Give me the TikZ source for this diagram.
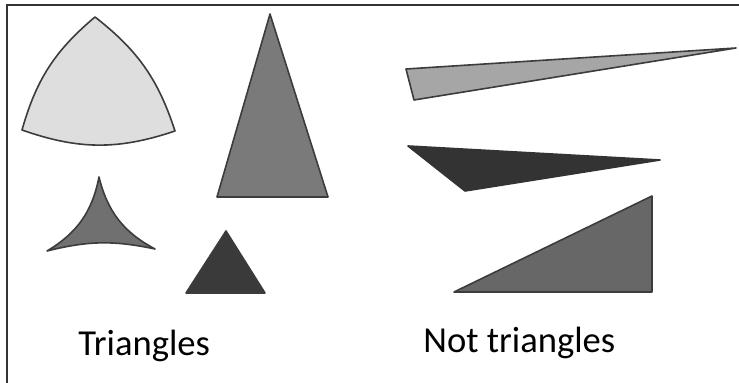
\documentclass[tikz,border=0pt]{standalone}
\usepackage{fontspec}
\setmainfont{Carlito}
\usepackage{tikz}
\usetikzlibrary{positioning,calc}

\definecolor{lightfill}{HTML}{DEDEDE}
\definecolor{midfill}{HTML}{7A7A7A}
\definecolor{concfill}{HTML}{707070}
\definecolor{darkfill}{HTML}{3A3A3A}
\definecolor{paleFill}{HTML}{A6A6A6}
\definecolor{inkfill}{HTML}{333333}
\definecolor{rightfill}{HTML}{676767}
\definecolor{edgeclr}{HTML}{3C3C3C}

\begin{document}
\begin{tikzpicture}[
  x=0.5pt, y=-0.5pt,
  shp/.style={draw=edgeclr, line width=0.8pt, line join=round},
  lbl/.style={font=\fontsize{18.3}{20}\selectfont, inner sep=0pt, anchor=base west},
  frameline/.style={draw=black!80, line width=1pt}
]
\useasboundingbox (0,0) rectangle (739,383);

% frame (left and top only)
\draw[frameline] (7,383) -- (7,5) -- (739,5);

% curved-out triangle
\coordinate (R1) at (95,17);
\coordinate (R2) at (175,131);
\coordinate (R3) at (22,130);
\draw[shp, fill=lightfill] (R1) to[bend left=17] (R2)
  to[bend left=19] (R3) to[bend left=17] cycle;

% tall triangle
\coordinate (T1) at (270,14);
\coordinate (T2) at (328,197);
\coordinate (T3) at (217,197);
\draw[shp, fill=midfill] (T1) -- (T2) -- (T3) -- cycle;

% curved-in triangle
\coordinate (C1) at (99,177);
\coordinate (C2) at (155,249);
\coordinate (C3) at (47,251);
\draw[shp, fill=concfill] (C1) to[bend right=24] (C2)
  to[bend right=13] (C3) to[bend right=24] cycle;

% small dark triangle
\coordinate (S1) at (226,231);
\coordinate (S2) at (265,293);
\coordinate (S3) at (186,293);
\draw[shp, fill=darkfill] (S1) -- (S2) -- (S3) -- cycle;

% thin pale sliver
\coordinate (P1) at (406,69);
\coordinate (P2) at (736,48);
\coordinate (P3) at (414,100);
\draw[shp, fill=paleFill] (P1) -- (P2) -- (P3) -- cycle;

% dark sliver
\coordinate (D1) at (408,146);
\coordinate (D2) at (660,160);
\coordinate (D3) at (465,191);
\draw[shp, draw=inkfill, fill=inkfill] (D1) -- (D2) -- (D3) -- cycle;

% right-angled one
\coordinate (Q1) at (454,292);
\coordinate (Q2) at (652,196);
\coordinate (Q3) at (652,292);
\draw[shp, fill=rightfill] (Q1) -- (Q2) -- (Q3) -- cycle;

\node[lbl] (tri) at (78,356) {Triangles};
\node[lbl] (nottri) at (423,353) {Not triangles};

\end{tikzpicture}
\end{document}
